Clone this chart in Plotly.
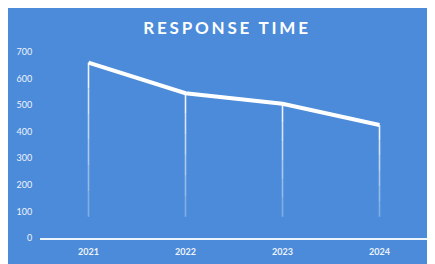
import plotly.graph_objects as go

years = ["2021", "2022", "2023", "2024"]
response_time = [660, 545, 505, 425]
y_ticks = [0, 100, 200, 300, 400, 500, 600, 700]
drop_base = 80

# page body has an 8px margin (white), which forms the white border
OFF = 8
W, H = 435 - OFF, 264 - OFF
L, R, T, B = 40 - OFF, 7, 52 - OFF, 26
pw, ph = W - L - R, H - T - B

def px_x(x):
    return (x - OFF - L) / pw

BLUE = "#4b8bd9"

fig = go.Figure()

# drop lines (fading)
for i, (yr, v) in enumerate(zip(years, response_time)):
    steps = 6
    for k in range(steps):
        y0 = v - (v - drop_base) * k / steps
        y1 = v - (v - drop_base) * (k + 1) / steps
        fig.add_trace(go.Scatter(
            x=[yr, yr], y=[y0, y1], mode="lines",
            line=dict(color="rgba(255,255,255,%.2f)" % (0.9 - 0.12 * k), width=1.6),
            hoverinfo="skip", showlegend=False))

fig.add_trace(go.Scatter(
    x=years, y=response_time, mode="lines",
    line=dict(color="white", width=4),
    showlegend=False))

fig.update_layout(
    width=W, height=H,
    margin=dict(l=L, r=R, t=T, b=B, autoexpand=False),
    paper_bgcolor=BLUE,
    plot_bgcolor="rgba(0,0,0,0)",
    title=dict(text='<span style="letter-spacing:2.8px">RESPONSE TIME</span>',
               x=px_x(227), xref="paper", xanchor="center",
               y=1 - (28 - OFF) / H, yanchor="middle",
               font=dict(family="Lato", size=17, color="white", weight="bold")),
    font=dict(family="Lato", color="#eef3fb"),
    xaxis=dict(type="category", range=[-0.5, 3.5], showgrid=False, automargin=False,
               showline=True, linecolor="rgba(255,255,255,0.9)", linewidth=2,
               ticks="outside", ticklen=4, tickcolor="rgba(0,0,0,0)",
               tickfont=dict(size=9, color="#eef3fb", weight="bold"),
               zeroline=False),
    yaxis=dict(range=[0, 700], tickvals=y_ticks, showgrid=False, automargin=False,
               showline=False, zeroline=False,
               ticks="outside", ticklen=5, tickcolor="rgba(0,0,0,0)",
               tickfont=dict(size=9, color="#eef3fb")),
)

fig.write_html("out.html")
